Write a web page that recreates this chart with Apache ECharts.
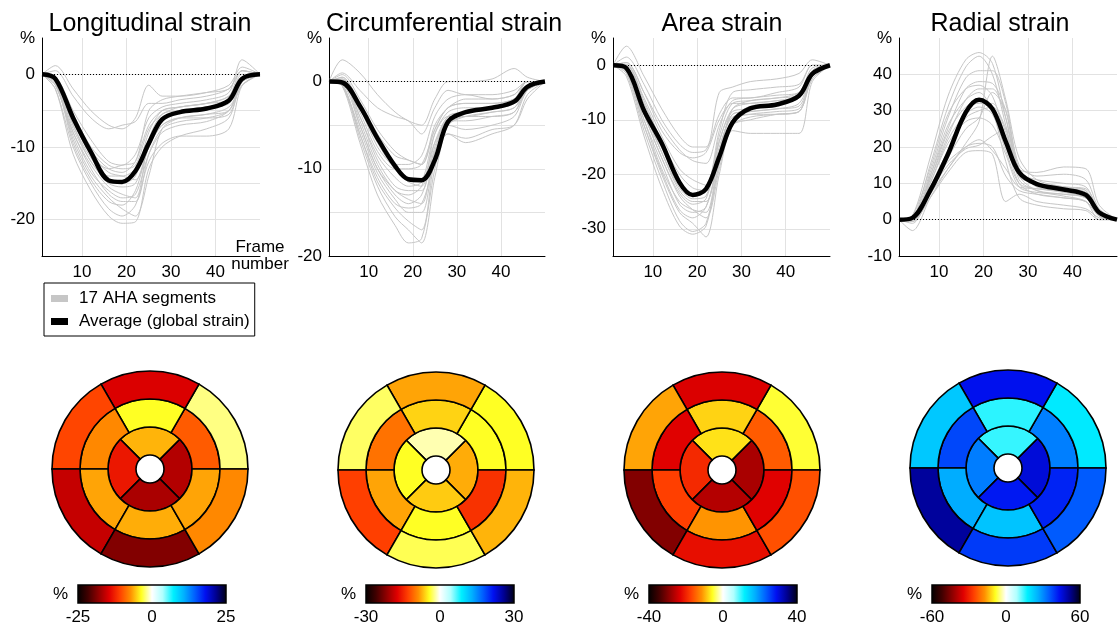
<!DOCTYPE html>
<html>
<head>
<meta charset="utf-8">
<title>Strain curves and bullseye plots</title>
<script src="https://cdn.jsdelivr.net/npm/echarts@6.0.0/dist/echarts.min.js"></script>
<style>
  html, body { margin: 0; padding: 0; background: #fff; }
  #main { width: 1120px; height: 633px; }
</style>
</head>
<body>
<div id="main"></div>
<script>
var FRAMES = [1, 4, 8, 12, 16, 19, 22, 25, 28, 32, 38, 43, 46, 50];

// ---- longitudinal strain (%) ----
var LONG_AVG = [0, -0.6, -6, -10.7, -14.6, -14.8, -13.3, -9.5, -6.2, -5.2, -4.7, -3.6, -0.6, 0];
var LONG_SEGS = [
  [0, 1.2, -2, -5, -7, -7.5, -6, -1.5, -3, -3, -2.5, -1.5, 1, 0],
  [0, 0.5, -3, -6, -7.5, -7, -6.5, -4, -4, -3.5, -3, -2, 0.5, 0],
  [0, -0.3, -5, -9, -12, -12.5, -11, -6, -4.5, -4, -3.5, -2.5, 2, 0],
  [0, -0.5, -6, -10.5, -13, -13.5, -12, -7, -5, -4.5, -4, -3, -0.5, 0],
  [0, -0.8, -7, -11.5, -14, -14, -13, -9, -6, -5, -4.5, -4, -1, 0],
  [0, -1, -7.5, -12, -15, -15.5, -15, -10, -7, -6, -5.5, -4.5, -1.5, 0],
  [0, -1.5, -8.5, -13.5, -16, -17, -16.5, -11, -8, -7, -6.5, -5, -1, 0],
  [0, -2, -10, -15, -18.5, -19.5, -18, -12, -9.5, -8.5, -8.5, -7.5, -1.5, 0],
  [0, -2, -11, -16, -19.5, -20.5, -20.3, -13, -10, -8.5, -7.5, -6, -1, 0],
  [0, -1, -9, -14, -17, -18.5, -19.5, -14, -7.5, -6, -5.5, -5, -0.5, 0],
  [0, -0.5, -6.5, -11, -13.5, -14, -14.5, -10, -6.5, -5, -4.5, -3.5, 0, 0],
  [0, -0.3, -5.5, -10, -12.5, -13, -12.5, -7.5, -5.5, -4.5, -4, -3, 0.5, 0],
  [0, -1.2, -8, -12.5, -15.5, -16.5, -17, -9, -5.5, -5, -4.5, -4, -1, 0],
  [0, -0.6, -7, -12, -14.5, -15, -14, -8, -5, -4.5, -4, -3.5, -0.5, 0],
  [0, -1, -9.5, -14.5, -17.5, -18, -16, -10, -7, -6, -6, -5.5, -1, 0],
  [0, -0.4, -6, -11, -13, -12.5, -12, -5, -3.5, -3, -2.5, -2, 0.5, 0],
  [0, -1.5, -8, -13, -16.5, -17.5, -17.5, -11, -7.5, -6.5, -6, -5, -1.5, 0]
];

// ---- circumferential strain (%) ----
var CIRC_AVG = [0, -0.1, -2.8, -6.5, -9.7, -11.2, -11.3, -9, -4.6, -3.5, -3, -2.3, -0.6, 0];
var CIRC_SEGS = [
  [0, 2.5, 1, -1.5, -3.5, -4.5, -5, -2, 0, 0, 0.3, 1.5, 0.5, 0],
  [0, 1, -1, -3, -4, -4.5, -6, -3, -1, -1.5, -1.5, -1, 0, 0],
  [0, 0.5, -3, -7, -9.5, -9.5, -8.5, -4, -2, -1.5, -2, -1.5, 0, 0],
  [0, 0.3, -3.5, -8, -10, -10, -9.5, -5.5, -3, -2.5, -2.5, -2, -0.5, 0],
  [0, 0.2, -4, -8.5, -11, -12, -11.5, -6, -4, -4, -3.5, -3, -0.5, 0],
  [0, 0, -4.5, -9.5, -12.5, -13, -12, -7, -5, -5.5, -5, -4, -1, 0],
  [0, -0.2, -5, -10, -13, -14, -13, -8, -6, -6.5, -5.5, -5, -2, 0],
  [0, -0.3, -6, -11, -14, -14.5, -14, -9, -5, -4, -3.5, -3, -1, 0],
  [0, -0.5, -7, -13, -16.5, -18.5, -18, -10, -4.5, -3.5, -3, -2.5, -0.5, 0],
  [0, -0.3, -6.5, -12, -15.5, -17, -18.5, -11, -5, -4, -4, -3.5, -0.5, 0],
  [0, 0.5, -2.5, -6, -8.5, -9, -9.5, -5, -3, -2, -2, -1.5, 0, 0],
  [0, 0, -5, -10, -12.5, -13.5, -14, -7.5, -4.5, -4.5, -4, -3.5, -1, 0],
  [0, -0.4, -5.5, -10.5, -13.5, -15, -15, -8, -4, -3.5, -3, -2.5, -0.5, 0],
  [0, 0.3, -3, -7.5, -10, -11.5, -12, -6, -3.5, -3, -3, -2.5, 0, 0],
  [0, -0.5, -6, -11.5, -14.5, -16, -17, -9, -6, -7, -6, -5, -1.5, 0],
  [0, 0.8, -2, -5.5, -8, -9, -9.5, -5.5, -3, -2.5, -2.5, -2, 0, 0],
  [0, 0, -4, -9, -12, -12.5, -12.5, -7, -4, -3.5, -3, -2.5, -0.5, 0]
];

// ---- area strain (%) ----
var AREA_AVG = [0, -0.5, -8.3, -14.3, -21.5, -23.8, -22.7, -16.8, -10.5, -7.9, -7.2, -5.6, -1.6, 0];
var AREA_SEGS = [
  [0, 3.5, -2, -8, -13, -15, -15, -5, -4, -3, -2.5, -1.5, 1, 0],
  [0, 1.5, -3.5, -10, -14.5, -16, -15.5, -9, -6, -6, -5, -4, 0, 0],
  [0, 0.5, -5, -12, -16, -17, -16, -10, -7, -7, -6.5, -6, -1, 0],
  [0, 0, -7, -14, -21, -24, -23, -14, -8.5, -8, -7, -6, -1.5, 0],
  [0, -0.5, -8, -16, -23, -25, -25, -16, -9, -8.5, -8, -7, -2, 0],
  [0, -1, -10, -18, -25.5, -27, -26, -17, -10, -9, -8.5, -8, -2.5, 0],
  [0, -1.5, -12, -21, -28.5, -30.5, -29, -18, -11, -9.5, -9, -8.5, -2, 0],
  [0, -2, -13, -22.5, -29.5, -31, -29.5, -18, -11, -10, -9, -8.5, -2.5, 0],
  [0, -1, -11, -20, -27, -29, -31.5, -20, -12, -12.5, -12.5, -12.5, -3, 0],
  [0, -0.5, -9, -17, -24, -26.5, -28, -19, -10, -7.5, -7, -6, -1, 0],
  [0, 0, -6, -13, -19, -21, -22, -12, -5, -4.5, -4, -3.5, 0, 0],
  [0, -0.3, -8.5, -16, -22.5, -24.5, -24, -14, -8, -7, -6.5, -5.5, -1, 0],
  [0, -1, -10, -19, -25, -26.5, -27, -16, -9, -8.5, -8, -7.5, -2, 0],
  [0, 0.5, -5, -11, -15.5, -17.5, -18, -11, -6.5, -6, -5.5, -5, -0.5, 0],
  [0, -0.7, -9, -17, -23.5, -25.5, -24.5, -15, -9.5, -9, -9, -8.5, -2, 0],
  [0, -1.2, -11, -19.5, -26.5, -28, -26, -16.5, -8, -6.5, -6, -5, -1, 0],
  [0, 0.2, -6.5, -14, -20, -22.5, -23, -13, -7, -6.5, -6, -5.5, -1, 0]
];

// ---- radial strain (%) ----
var RAD_AVG = [0, 0.5, 8, 18, 29.5, 33, 30.5, 21.5, 13, 9.8, 8.3, 6.8, 2, 0];
var RAD_SEGS = [
  [0, 1, 17, 34, 44, 46, 43, 28, 14, 10, 9, 8, 2, 0],
  [0, 0.5, 15, 31, 42, 45, 40, 26, 13, 11, 10, 9, 2.5, 0],
  [0, 0.5, 13, 28, 39, 41, 41, 32, 15, 12, 12.5, 11, 3, 0],
  [0, 0, 12, 25, 36, 38, 37.5, 30, 14, 13, 14.5, 14, 4, 0],
  [0, 0, 11, 23, 33, 36, 36, 28, 12, 10, 9, 8, 2, 0],
  [0, 0, 9, 19, 28, 30, 31, 25, 11, 8, 7, 6, 1.5, 0],
  [0, -0.5, 8, 17, 25, 28, 35, 30, 14, 9, 8, 7, 1, 0],
  [0, -3, 6, 14, 21, 27, 45, 33, 17, 11, 9, 7.5, 1.5, 0],
  [0, -1, 7, 14, 20, 21, 20, 12, 8, 7, 6, 5, 1, 0],
  [0, -0.5, 6, 13, 18.5, 19, 18, 5, 7, 5, 4, 3, 0.5, 0],
  [0, 0.5, 9, 16, 20, 22, 19, 14, 9, 8.5, 7.5, 6, 1, 0],
  [0, 0, 8, 15, 19.5, 20.5, 23, 25, 12, 8, 6.5, 5, 0, 0],
  [0, 0.3, 10, 21, 27, 28, 26, 18, 9, 7.5, 7, 6, 1, 0],
  [0, 1, 14, 29, 36, 37, 34, 22, 10, 7, 6, 5, 1, 0],
  [0, 0, 12, 26, 33, 35, 30, 16, 6, 4, 3, 2.5, 0, 0],
  [0, 0.5, 11, 24, 31, 32, 32, 24, 13, 10, 9, 8.5, 2.5, 0],
  [0, -0.5, 10, 22, 29, 31, 29, 19, 10, 8.5, 8, 7.5, 1.5, 0]
];

// ---- bullseye segment values (%), counter-clockwise from 3 o'clock ----
var LONG_BASAL = [-2, -14.5, -10.5, -15.5, -18.5, -7.5];
var LONG_MID = [-9.5, -3.5, -7.5, -6.5, -6.2, -6.5];
var LONG_APICAL = [-16.3, -6, -13, -16.7];

var CIRC_BASAL = [-4.2, -7.8, -3, -12.9, -3.3, -7.2];
var CIRC_MID = [-4.2, -6, -10.2, -7.8, -4.2, -13.8];
var CIRC_APICAL = [-7.5, -1.5, -4.2, -6.3];

var AREA_BASAL = [-5.2, -23.2, -10.4, -29.6, -21.6, -16];
var AREA_MID = [-15.2, -8, -22.8, -17.2, -11.2, -22.8];
var AREA_APICAL = [-26.8, -7.2, -19.2, -26];

var RAD_BASAL = [18, 43, 22.5, 50.4, 38.4, 34.8];
var RAD_MID = [31, 15, 37, 26, 23, 40.8];
var RAD_APICAL = [45, 14.5, 31.2, 42];

// colour-bar limits
var CBAR_MAX = [25, 30, 40, 60];

// segment start angles (degrees) of the rings
var SIX_STARTS = [0, 60, 120, 180, 240, 300];
var APICAL_STARTS = [-45, 45, 135, 225];

var COLORMAP = ['#000000', '#400000', '#900000', '#e00000', '#ff4000', '#ff9000', '#ffff20', '#ffffff',
  '#b0ffff', '#00f0ff', '#00b0ff', '#0060ff', '#0010f0', '#000090', '#000010'];

var FONT = '"Liberation Sans", Arial, Helvetica, sans-serif';
var GRAY = '#c6c6c6';

var PANELS = [
  { title: 'Longitudinal strain', avg: LONG_AVG, segs: LONG_SEGS, yMin: -25, yMax: 5, yStep: 5, grid: ['#e2e2e2'],
    rings: [LONG_BASAL, LONG_MID, LONG_APICAL] },
  { title: 'Circumferential strain', avg: CIRC_AVG, segs: CIRC_SEGS, yMin: -20, yMax: 5, yStep: 5, grid: ['#e2e2e2'],
    rings: [CIRC_BASAL, CIRC_MID, CIRC_APICAL] },
  { title: 'Area strain', avg: AREA_AVG, segs: AREA_SEGS, yMin: -35, yMax: 5, yStep: 5, grid: ['rgba(0,0,0,0)', '#e2e2e2'],
    rings: [AREA_BASAL, AREA_MID, AREA_APICAL] },
  { title: 'Radial strain', avg: RAD_AVG, segs: RAD_SEGS, yMin: -10, yMax: 50, yStep: 10, grid: ['#e2e2e2'],
    rings: [RAD_BASAL, RAD_MID, RAD_APICAL] }
];

// layout (px)
var PLOT_LEFT = [42, 329, 613, 899];
var PLOT_WIDTH = [218, 216, 217, 218];
var TITLE_X = [150, 444, 722, 1000];
var EYE_CENTER = [[150, 469], [436, 470], [722, 470], [1008, 468]];
var CBAR_LEFT = [78, 366, 649, 932];

function toPoints(values) {
  return FRAMES.map(function (f, i) { return [f, values[i]]; });
}

function ringItems(values, starts, span, ring) {
  return values.map(function (v, i) { return [ring, starts[i], starts[i] + span, v]; });
}

function renderSegment(params, api) {
  var cs = params.coordSys;
  var ring = api.value(0), a0 = api.value(1), a1 = api.value(2);
  var pIn = api.coord([ring, a0]);
  var pOut0 = api.coord([ring + 1, a0]);
  var pOut1 = api.coord([ring + 1, a1]);
  var r0 = Math.hypot(pIn[0] - cs.cx, pIn[1] - cs.cy);
  var r = Math.hypot(pOut0[0] - cs.cx, pOut0[1] - cs.cy);
  var s = Math.atan2(pOut1[1] - cs.cy, pOut1[0] - cs.cx);
  var e = Math.atan2(pOut0[1] - cs.cy, pOut0[0] - cs.cx);
  while (e <= s) e += Math.PI * 2;
  return {
    type: 'sector',
    shape: { cx: cs.cx, cy: cs.cy, r0: r0, r: r, startAngle: s, endAngle: e, clockwise: true },
    style: { fill: api.visual('color'), stroke: '#000', lineWidth: 1.6 }
  };
}

var gradient = {
  type: 'linear', x: 0, y: 0, x2: 1, y2: 0,
  colorStops: COLORMAP.map(function (c, i) { return { offset: i / (COLORMAP.length - 1), color: c }; })
};

var titles = [], grids = [], xAxes = [], yAxes = [], series = [], polars = [], radiusAxes = [], angleAxes = [], visualMaps = [];

PANELS.forEach(function (p, k) {
  titles.push({
    text: p.title, left: TITLE_X[k], top: 12, textAlign: 'center', padding: 0,
    textStyle: { fontFamily: FONT, fontSize: 25, fontWeight: 'normal', color: '#000' }
  });

  // strain curve panel
  grids.push({ left: PLOT_LEFT[k], top: 38, width: PLOT_WIDTH[k], height: 218, outerBoundsMode: 'none' });
  xAxes.push({
    type: 'value', gridIndex: k, min: 1, max: 50,
    name: k === 0 ? 'Frame\nnumber' : '', nameLocation: 'end', nameGap: 0,
    nameTextStyle: { fontFamily: FONT, fontSize: 17, color: '#000', align: 'center', verticalAlign: 'middle', lineHeight: 17 },
    axisLine: { onZero: false, lineStyle: { color: '#000', width: 1 } },
    axisTick: { show: false },
    axisLabel: {
      fontFamily: FONT, fontSize: 17, color: '#000', margin: 8,
      formatter: function (v) { return v % 10 === 0 && v < 50 ? String(v) : ''; }
    },
    splitLine: { show: true, showMaxLine: false, lineStyle: { color: '#e2e2e2', width: 1 } }
  });
  yAxes.push({
    type: 'value', gridIndex: k, min: p.yMin, max: p.yMax, interval: p.yStep,
    axisLine: { show: true, onZero: false, lineStyle: { color: '#000', width: 1 } },
    axisTick: { show: false },
    axisLabel: {
      fontFamily: FONT, fontSize: 17, color: '#000', margin: 7,
      formatter: function (v) { return v === p.yMax ? '%' : (v % 10 === 0 ? String(v) : ''); }
    },
    splitLine: { show: true, showMaxLine: false, lineStyle: { color: p.grid, width: 1 } }
  });
  p.segs.forEach(function (s) {
    series.push({
      name: '17 AHA segments', type: 'line', xAxisIndex: k, yAxisIndex: k,
      data: toPoints(s), smooth: 0.3, symbol: 'none', silent: true,
      color: GRAY, lineStyle: { color: GRAY, width: 1 }, z: 2
    });
  });
  series.push({
    name: 'Average (global strain)', type: 'line', xAxisIndex: k, yAxisIndex: k,
    data: toPoints(p.avg), smooth: 0.35, symbol: 'none', silent: true,
    color: '#000', lineStyle: { color: '#000', width: 4.5 }, z: 4,
    markLine: {
      silent: true, symbol: 'none', label: { show: false },
      lineStyle: { color: '#000', width: 1, type: [1, 2] },
      data: [{ yAxis: 0 }]
    }
  });

  // bullseye
  polars.push({ center: EYE_CENTER[k], radius: 98 });
  radiusAxes.push({ polarIndex: k, type: 'value', min: -0.5, max: 3, show: false });
  angleAxes.push({ polarIndex: k, type: 'value', min: 0, max: 360, startAngle: 0, clockwise: false, show: false });
  var eyeData = ringItems(p.rings[2], APICAL_STARTS, 90, 0)
    .concat(ringItems(p.rings[1], SIX_STARTS, 60, 1))
    .concat(ringItems(p.rings[0], SIX_STARTS, 60, 2));
  visualMaps.push({
    type: 'continuous', show: false, seriesIndex: series.length, dimension: 3,
    min: -CBAR_MAX[k], max: CBAR_MAX[k], inRange: { color: COLORMAP }
  });
  series.push({
    type: 'custom', coordinateSystem: 'polar', polarIndex: k, silent: true,
    renderItem: renderSegment, data: eyeData
  });
});

// colour bars
PANELS.forEach(function (p, k) {
  var g = grids.length;
  grids.push({
    left: CBAR_LEFT[k], top: 585, width: 148, height: 18, show: true,
    backgroundColor: gradient, borderColor: '#000', borderWidth: 1.5, outerBoundsMode: 'none'
  });
  xAxes.push({
    type: 'value', gridIndex: g, min: -CBAR_MAX[k], max: CBAR_MAX[k], interval: CBAR_MAX[k],
    axisLine: { show: false, onZero: false }, axisTick: { show: false }, splitLine: { show: false },
    axisLabel: { fontFamily: FONT, fontSize: 17, color: '#000', margin: 6 }
  });
  yAxes.push({
    type: 'value', gridIndex: g, min: 0, max: 1,
    name: '%', nameLocation: 'middle', nameRotate: 0, nameGap: 10,
    nameTextStyle: { fontFamily: FONT, fontSize: 17, color: '#000' },
    axisLine: { show: false, onZero: false }, axisTick: { show: false }, axisLabel: { show: false }, splitLine: { show: false }
  });
});

var chart = echarts.init(document.getElementById('main'), null, { renderer: 'canvas' });
chart.setOption({
  animation: false,
  backgroundColor: '#fff',
  title: titles,
  legend: {
    data: ['17 AHA segments', 'Average (global strain)'],
    orient: 'vertical', left: 44, top: 283,
    padding: [6, 5, 5, 7], itemGap: 4, itemWidth: 17, itemHeight: 7, icon: 'rect',
    borderColor: '#000', borderWidth: 1, borderRadius: 0, selectedMode: false,
    textStyle: { fontFamily: FONT, fontSize: 17, color: '#000', lineHeight: 19, padding: [0, 0, 0, 6] }
  },
  grid: grids,
  xAxis: xAxes,
  yAxis: yAxes,
  polar: polars,
  radiusAxis: radiusAxes,
  angleAxis: angleAxes,
  visualMap: visualMaps,
  series: series
});
</script>
</body>
</html>
